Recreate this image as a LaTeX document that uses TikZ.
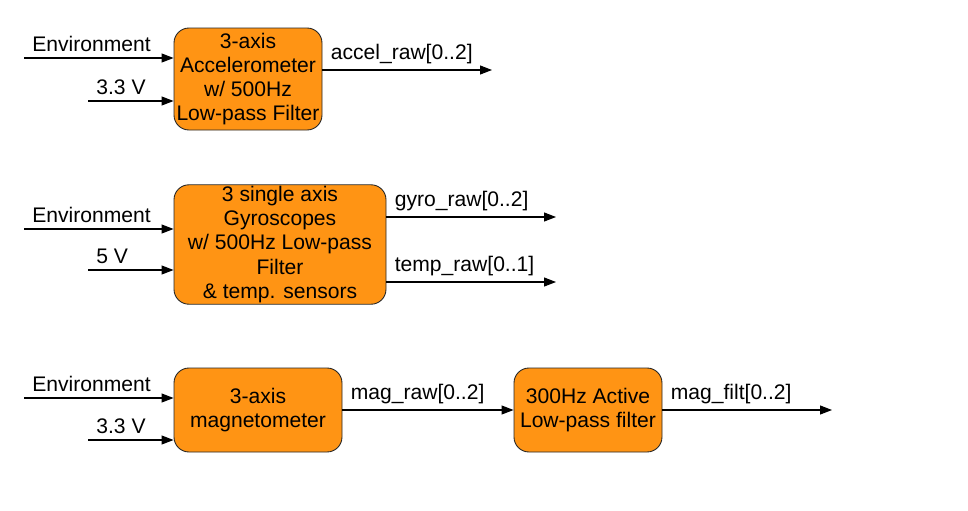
\documentclass[tikz,border=0pt]{standalone}
\usepackage{fontspec}
\setmainfont{Liberation Sans}
\usepackage{xcolor}
\usetikzlibrary{arrows.meta,positioning}
\definecolor{blkorange}{RGB}{255,148,20}

\begin{document}
\begin{tikzpicture}[x=0.2mm,y=-0.2mm,font=\fontsize{12}{13.7}\selectfont,
  blk/.style={draw=black!85,line width=0.5pt,fill=blkorange,rounded corners=3mm,align=center,inner sep=1pt},
  sig/.style={-{Triangle[length=2.4mm,width=1.8mm]},line width=0.6pt},
  lbl/.style={pos=0,anchor=south west,xshift=0.4mm}]
  \useasboundingbox (0,0) rectangle (968,510);
  % sensor blocks, placed in px of the 968x510 sketch (y down)
  \node[blk,minimum width=29.6mm,minimum height=20.4mm] (acc) at (248,79)
    {3-axis\\Accelerometer\\w/ 500Hz\\Low-pass Filter};
  \node[blk,minimum width=42.4mm,minimum height=23.4mm] (gyr) at (280,244.5)
    {3 single axis\\Gyroscopes\\w/ 500Hz Low-pass\\Filter\\\& temp. sensors};
  \node[blk,minimum width=33.6mm,minimum height=16.8mm] (mag) at (258,410)
    {3-axis\\magnetometer};
  \node[blk,minimum width=29.6mm,minimum height=16.8mm] (flt) at (588,410)
    {300Hz Active\\Low-pass filter};
  % inputs: environment + supply for each block
  \foreach \b/\ye/\yv/\v in {acc/58/101/3.3 V, gyr/229/270/5 V, mag/398/440/3.3 V} {
    \coordinate (env-\b) at (24,\ye);
    \coordinate (pwr-\b) at (88,\yv);
    \draw[sig] (env-\b) -- (env-\b -| \b.west) node[lbl] {Environment};
    \draw[sig] (pwr-\b) -- (pwr-\b -| \b.west) node[lbl] {\v};
  }
  % outputs
  \coordinate (accout) at (492,70);
  \coordinate (gyrout) at (556,217);
  \coordinate (tmpout) at (556,282);
  \coordinate (magout) at (832,410);
  \draw[sig] (acc.east |- accout) -- (accout) node[lbl] {accel\_raw[0..2]};
  \draw[sig] (gyr.east |- gyrout) -- (gyrout) node[lbl] {gyro\_raw[0..2]};
  \draw[sig] (gyr.east |- tmpout) -- (tmpout) node[lbl] {temp\_raw[0..1]};
  \draw[sig] (mag) -- (flt) node[lbl] {mag\_raw[0..2]};
  \draw[sig] (flt) -- (magout) node[lbl] {mag\_filt[0..2]};
\end{tikzpicture}
\end{document}
